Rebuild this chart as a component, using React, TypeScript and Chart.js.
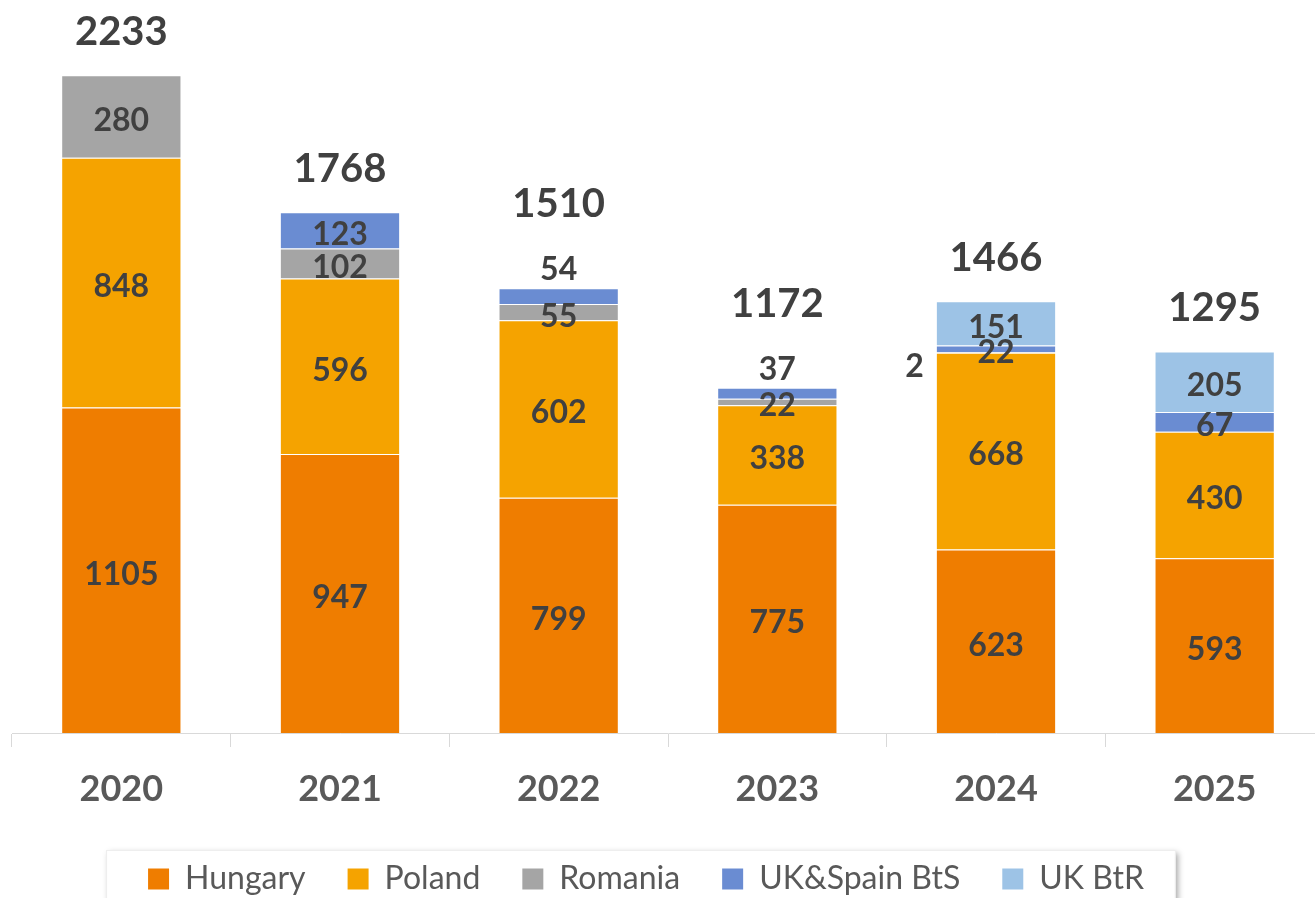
import React, { useEffect, useRef } from "react";
import { Chart, registerables } from "chart.js";

Chart.register(...registerables);

const years = ["2020", "2021", "2022", "2023", "2024", "2025"];
const hungary = [1105, 947, 799, 775, 623, 593];
const poland = [848, 596, 602, 338, 668, 430];
const romania = [280, 102, 55, 22, 2, 0];
const ukSpainBtS = [0, 123, 54, 37, 22, 67];
const ukBtR = [0, 0, 0, 0, 151, 205];
const seriesNames = ["Hungary", "Poland", "Romania", "UK&Spain BtS", "UK BtR"];
const seriesColors = ["#EF7D00", "#F5A300", "#A5A5A5", "#6A8CD2", "#9DC3E6"];

const FONT = "Lato, 'Open Sans', sans-serif";

const labelPlugin = {
  id: "stackLabels",
  afterDatasetsDraw(chart: any) {
    const ctx = chart.ctx;
    ctx.save();
    ctx.fillStyle = "#404040";
    ctx.textBaseline = "middle";
    const n = chart.data.labels.length;
    for (let j = 0; j < n; j++) {
      let topIdx = -1;
      let total = 0;
      chart.data.datasets.forEach((ds: any, i: number) => {
        const v = ds.data[j];
        if (v > 0) {
          topIdx = i;
          total += v;
        }
      });
      let topY = Infinity;
      let aboveY: number | null = null;
      let cx = 0;
      chart.data.datasets.forEach((ds: any, i: number) => {
        const v = ds.data[j];
        if (!(v > 0)) return;
        const bar = chart.getDatasetMeta(i).data[j];
        const { x, y, base, width } = bar.getProps(["x", "y", "base", "width"], true);
        const h = base - y;
        cx = x;
        topY = Math.min(topY, y);
        ctx.font = `bold 32px ${FONT}`;
        if (h < 3) {
          ctx.textAlign = "right";
          ctx.fillText(String(v), x - width / 2 - 12, (y + base) / 2 + 14);
        } else if (i === topIdx && h < 20) {
          ctx.textAlign = "center";
          aboveY = y - 18;
          ctx.fillText(String(v), x, aboveY);
        } else {
          ctx.textAlign = "center";
          ctx.fillText(String(v), x, (y + base) / 2 + 4);
        }
      });
      ctx.textAlign = "center";
      ctx.font = `bold 40px ${FONT}`;
      const ty = aboveY !== null ? (aboveY as number) - 66 : topY - 43;
      ctx.fillText(String(total), cx, ty);
    }
    ctx.restore();
  },
};

const LEGEND_SHIFT = -22;

const framePlugin = {
  id: "legendFrame",
  afterUpdate(chart: any) {
    const lg = chart.legend;
    if (!lg) return;
    lg.left += LEGEND_SHIFT;
    lg.right += LEGEND_SHIFT;
    (lg.legendHitBoxes || []).forEach((h: any) => {
      h.left += LEGEND_SHIFT;
    });
  },
  beforeDraw(chart: any) {
    const lg = chart.legend;
    if (!lg || !lg.legendHitBoxes || !lg.legendHitBoxes.length) return;
    const hb = lg.legendHitBoxes;
    const left = hb[0].left - 42;
    const last = hb[hb.length - 1];
    const right = last.left + last.width + 31;
    const top = hb[0].top - 13;
    const ctx = chart.ctx;
    ctx.save();
    ctx.shadowColor = "rgba(0,0,0,0.35)";
    ctx.shadowBlur = 6;
    ctx.shadowOffsetX = 3;
    ctx.shadowOffsetY = 3;
    ctx.fillStyle = "#ffffff";
    ctx.fillRect(left, top, right - left, chart.height - top + 20);
    ctx.restore();
    ctx.save();
    ctx.strokeStyle = "#EEEEEE";
    ctx.lineWidth = 1;
    ctx.strokeRect(left + 0.5, top + 0.5, right - left, chart.height);
    ctx.restore();
  },
};

export default function App() {
  const ref = useRef<HTMLCanvasElement | null>(null);
  useEffect(() => {
    if (!ref.current) return;
    const values = [hungary, poland, romania, ukSpainBtS, ukBtR];
    const chart = new Chart(ref.current, {
      type: "bar",
      data: {
        labels: years,
        datasets: values.map((d, i) => ({
          label: seriesNames[i],
          data: d,
          backgroundColor: seriesColors[i],
          borderColor: "rgba(255,255,255,0.55)",
          borderWidth: 1,
          barPercentage: 0.55,
          categoryPercentage: 1,
        })),
      },
      options: {
        responsive: false,
        animation: false,
        devicePixelRatio: 1,
        layout: { padding: { top: 26, left: 12, right: 6, bottom: 0 } },
        plugins: {
          tooltip: { enabled: false },
          legend: {
            position: "bottom",
            labels: {
              boxWidth: 21,
              boxHeight: 21,
              padding: 42,
              color: "#595959",
              font: { family: FONT, size: 32 },
              generateLabels: (c: any) =>
                Chart.defaults.plugins.legend.labels
                  .generateLabels(c)
                  .map((it: any) => ({ ...it, lineWidth: 0, strokeStyle: "rgba(0,0,0,0)" })),
            },
          },
        },
        scales: {
          x: {
            stacked: true,
            grid: {
              display: true,
              drawOnChartArea: false,
              drawTicks: true,
              tickLength: 14,
              color: "#D9D9D9",
              offset: true,
            },
            border: { display: true, color: "#D9D9D9", width: 1 },
            ticks: {
              color: "#595959",
              font: { family: FONT, size: 36, weight: "bold" },
              padding: 21,
            },
            afterFit: (s: any) => {
              s.height = 88;
            },
          },
          y: { stacked: true, display: false, min: 0, max: 2400 },
        },
      },
      plugins: [framePlugin, labelPlugin],
    } as any);
    return () => chart.destroy();
  }, []);
  return (
    <div
      style={{
        position: "absolute",
        left: 0,
        top: 0,
        width: 1315,
        height: 898,
        overflow: "hidden",
        background: "#fff",
      }}
    >
      <canvas ref={ref} width={1330} height={905} style={{ display: "block" }} />
    </div>
  );
}
